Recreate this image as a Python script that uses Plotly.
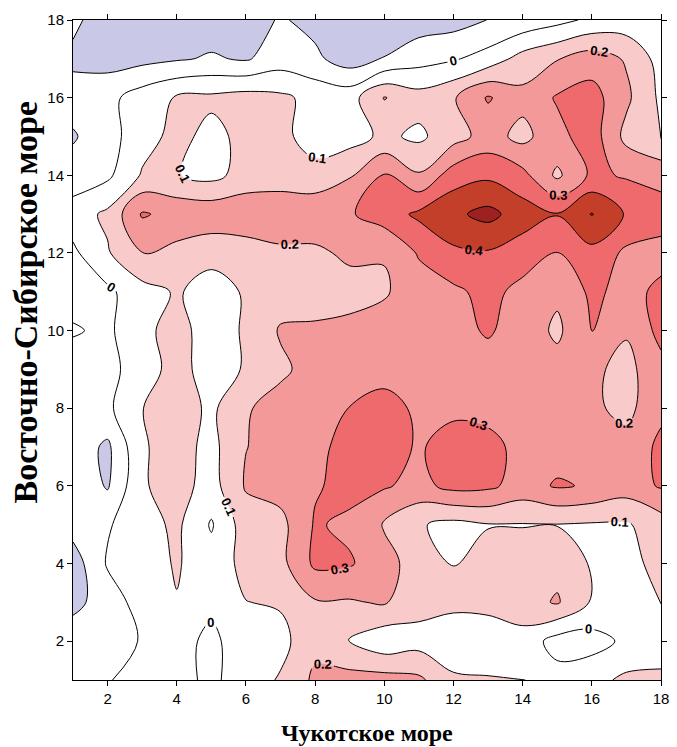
import plotly.graph_objects as go

# grid coordinates
x_vals = list(range(1, 19))
y_vals = list(range(1, 19))

# field values, rows listed from the top (y=18) down to the bottom (y=1)
row_y18 = [-0.08, -0.15, -0.16, -0.16, -0.15, -0.15, -0.09, -0.13, -0.17, -0.16, -0.15, -0.14, -0.098, -0.07, -0.03, 0.02, 0.04, 0.05]
row_y17 = [-0.12, -0.14, -0.13, -0.11, -0.09, -0.11, -0.05, -0.08, -0.15, -0.095, -0.04, -0.01, 0.04, 0.14, 0.195, 0.25, 0.19, 0.06]
row_y16 = [-0.06, -0.03, 0.05, 0.11, 0.12, 0.14, 0.12, 0.07, 0.06, 0.205, 0.14, 0.19, 0.31, 0.23, 0.31, 0.34, 0.22, 0.08]
row_y15 = [-0.11, -0.04, 0.06, 0.13, 0.07, 0.13, 0.13, 0.05, 0.06, 0.12, 0.08, 0.16, 0.24, 0.17, 0.27, 0.35, 0.17, 0.09]
row_y14 = [-0.06, -0.02, 0.11, 0.105, 0.07, 0.14, 0.15, 0.14, 0.19, 0.305, 0.21, 0.35, 0.38, 0.33, 0.18, 0.32, 0.29, 0.27]
row_y13 = [0.05, 0.12, 0.31, 0.27, 0.27, 0.27, 0.27, 0.27, 0.29, 0.35, 0.42, 0.48, 0.53, 0.45, 0.405, 0.505, 0.39, 0.34]
row_y12 = [-0.02, 0.09, 0.205, 0.17, 0.13, 0.15, 0.18, 0.18, 0.22, 0.205, 0.31, 0.38, 0.39, 0.35, 0.295, 0.37, 0.28, 0.27]
row_y11 = [-0.04, -0.02, 0.06, 0.11, 0.06, 0.11, 0.15, 0.17, 0.16, 0.19, 0.25, 0.28, 0.33, 0.27, 0.22, 0.32, 0.27, 0.32]
row_y10 = [0.01, -0.02, 0.08, 0.13, 0.06, 0.11, 0.21, 0.21, 0.23, 0.24, 0.26, 0.27, 0.31, 0.26, 0.18, 0.305, 0.21, 0.33]
row_y9 = [-0.05, -0.03, 0.05, 0.14, 0.05, 0.11, 0.18, 0.24, 0.26, 0.26, 0.25, 0.25, 0.26, 0.25, 0.24, 0.22, 0.17, 0.27]
row_y8 = [-0.05, -0.02, 0.098, 0.15, 0.08, 0.19, 0.24, 0.26, 0.302, 0.34, 0.28, 0.28, 0.27, 0.25, 0.24, 0.22, 0.17, 0.28]
row_y7 = [-0.04, -0.12, 0.09, 0.14, 0.07, 0.198, 0.23, 0.27, 0.34, 0.34, 0.29, 0.34, 0.33, 0.27, 0.26, 0.25, 0.24, 0.32]
row_y6 = [-0.02, -0.11, 0.09, 0.14, 0.06, 0.21, 0.24, 0.29, 0.33, 0.31, 0.27, 0.33, 0.32, 0.26, 0.31, 0.29, 0.25, 0.31]
row_y5 = [-0.06, -0.01, 0.06, 0.12, -0.01, 0.15, 0.17, 0.31, 0.28, 0.19, 0.11, 0.07, 0.095, 0.095, 0.097, 0.09, 0.09, 0.15]
row_y4 = [-0.15, 0.01, 0.05, 0.11, 0.04, 0.13, 0.17, 0.32, 0.31, 0.24, 0.15, 0.098, 0.14, 0.16, 0.17, 0.09, 0.07, 0.13]
row_y3 = [-0.13, -0.05, 0.04, 0.095, 0.02, 0.098, 0.11, 0.19, 0.19, 0.21, 0.14, 0.13, 0.14, 0.16, 0.21, 0.09, 0.06, 0.102]
row_y2 = [-0.04, -0.02, 0.003, 0.03, -0.02, 0.05, 0.07, 0.17, 0.09, 0.03, 0.06, 0.02, 0.02, 0.06, -0.04, -0.04, 0.02, 0.05]
row_y1 = [-0.04, -0.005, 0.03, 0.03, -0.02, 0.05, 0.11, 0.22, 0.24, 0.24, 0.22, 0.12, 0.11, 0.105, 0.04, 0.07, 0.12, 0.12]

rows_top_down = [row_y18, row_y17, row_y16, row_y15, row_y14, row_y13, row_y12, row_y11, row_y10,
                 row_y9, row_y8, row_y7, row_y6, row_y5, row_y4, row_y3, row_y2, row_y1]
z = rows_top_down[::-1]  # plotly wants row 0 at y=1

tick_vals = [2, 4, 6, 8, 10, 12, 14, 16, 18]
x_title = "Чукотское море"
y_title = "Восточно-Сибирское море"

band_colors = ["#c9c8e6", "#ffffff", "#ffffff", "#f9caca", "#f39999", "#ef6a6c", "#c43f2a", "#9d2121"]
n = len(band_colors) - 1
colorscale = [[i / n, c] for i, c in enumerate(band_colors)]

fig = go.Figure()
# filled bands
fig.add_trace(go.Contour(
    x=x_vals, y=y_vals, z=z, autocontour=False,
    contours=dict(start=-0.1, end=0.5, size=0.1, coloring="fill", showlines=False),
    colorscale=colorscale, showscale=False, line=dict(width=0, smoothing=1),
    hoverinfo="skip", showlegend=False,
))
# unlabeled lines (-0.1 and 0.5)
for lev in (-0.1, 0.5):
    fig.add_trace(go.Contour(
        x=x_vals, y=y_vals, z=z, autocontour=False,
        contours=dict(start=lev, end=lev, size=0.1, coloring="none"),
        line=dict(color="black", width=1, smoothing=1), showscale=False,
        hoverinfo="skip", showlegend=False,
    ))
# labelled lines 0 .. 0.4
fig.add_trace(go.Contour(
    x=x_vals, y=y_vals, z=z, autocontour=False,
    contours=dict(start=0, end=0.4, size=0.1, coloring="none", showlabels=True,
                  labelfont=dict(size=13, color="black", family="Liberation Sans", weight="bold")),
    line=dict(color="black", width=1, smoothing=1), showscale=False,
    hoverinfo="skip", showlegend=False,
))

axis_common = dict(
    range=[1, 18], tickvals=tick_vals, ticks="outside", ticklen=5, tickcolor="black",
    showline=True, linecolor="black", linewidth=1, mirror="ticks",
    showgrid=False, zeroline=False, ticklabeloverflow="allow",
    tickfont=dict(family="Liberation Sans", size=15, color="black"),
)
fig.update_layout(
    width=677, height=747, showlegend=False,
    margin=dict(l=73, r=8, t=20, b=67),
    paper_bgcolor="white", plot_bgcolor="white",
    xaxis=axis_common,
    yaxis=axis_common,
    annotations=[
        dict(text="<b>" + x_title + "</b>", xref="paper", yref="paper", x=0.5, y=-0.08,
             xanchor="center", yanchor="middle", showarrow=False,
             font=dict(family="Liberation Serif", size=24, color="black")),
        dict(text="<b>" + y_title + "</b>", xref="paper", yref="paper", x=-0.08, y=0.572,
             xanchor="center", yanchor="middle", showarrow=False, textangle=-90,
             font=dict(family="Liberation Serif", size=34, color="black")),
    ],
)
fig.write_html("out.html", config={"displayModeBar": False},
               post_script="document.body.style.margin='0';")
